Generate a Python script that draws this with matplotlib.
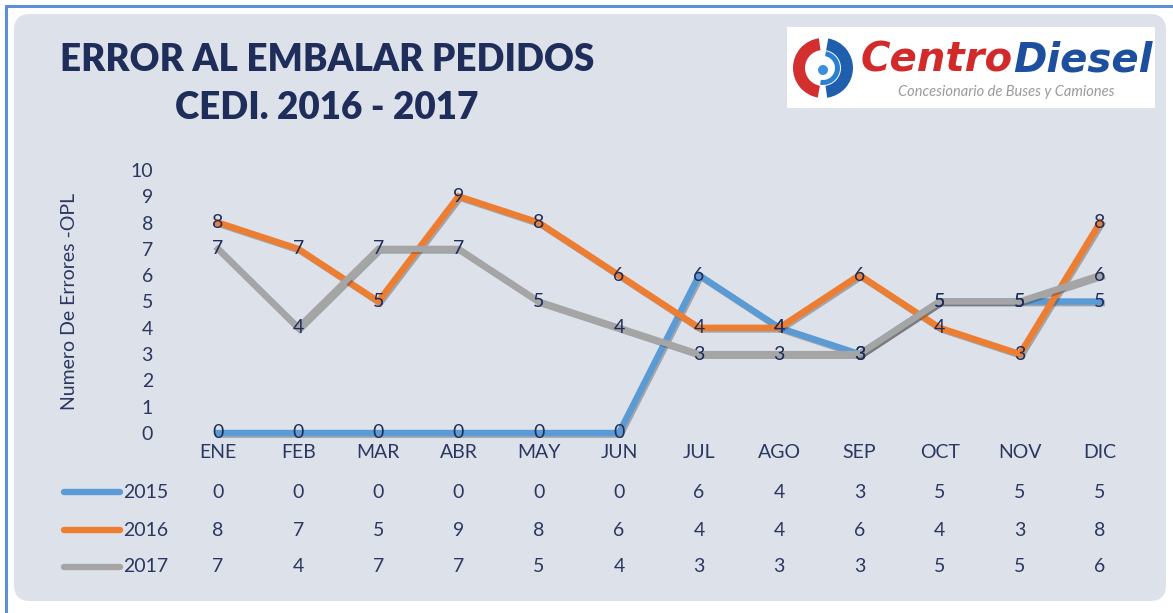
import matplotlib
matplotlib.use("Agg")
import matplotlib.pyplot as plt
import matplotlib.patheffects as pe
from matplotlib.patches import FancyBboxPatch, Rectangle, Wedge, Circle
from matplotlib.transforms import blended_transform_factory

plt.rcParams['font.family'] = ['Lato', 'DejaVu Sans']

# datos
meses = ['ENE', 'FEB', 'MAR', 'ABR', 'MAY', 'JUN', 'JUL', 'AGO', 'SEP', 'OCT', 'NOV', 'DIC']
anios = ['2015', '2016', '2017']
v2015 = [0, 0, 0, 0, 0, 0, 6, 4, 3, 5, 5, 5]
v2016 = [8, 7, 5, 9, 8, 6, 4, 4, 6, 4, 3, 8]
v2017 = [7, 4, 7, 7, 5, 4, 3, 3, 3, 5, 5, 6]
series = [v2015, v2016, v2017]
colores = ['#5b9bd5', '#ed7d31', '#a5a5a5']

W, H = 1173, 613
navy = '#1f2d5a'
texto = '#2a3760'
fondo = '#dde1e9'

fig = plt.figure(figsize=(W / 100, H / 100), dpi=100)
fig.patch.set_facecolor('white')

# capa de fondo en pixeles
bg = fig.add_axes([0, 0, 1, 1])
bg.set_xlim(0, W)
bg.set_ylim(H, 0)
bg.axis('off')
bg.add_patch(FancyBboxPatch((14, 14), 1152, 587, boxstyle='round,pad=0,rounding_size=16',
                            fc=fondo, ec='none'))
bg.plot([5, W], [6, 6], color='#5b8fd6', lw=2.2, solid_capstyle='butt')
bg.plot([6, 6], [5, H], color='#5b8fd6', lw=2.2, solid_capstyle='butt')

# titulo
bg.text(327, 60, 'ERROR AL EMBALAR PEDIDOS', ha='center', va='center',
        fontsize=26.5, fontweight='heavy', color=navy)
bg.text(327, 108, 'CEDI. 2016 - 2017', ha='center', va='center',
        fontsize=26.5, fontweight='heavy', color=navy)

# logo
bg.add_patch(Rectangle((787, 27), 368, 81, fc='white', ec='none'))
bg.add_patch(Wedge((823, 68), 30, 100, 262, width=12, fc='#d32f2f', ec='none'))
bg.add_patch(Wedge((823, 68), 30, -80, 82, width=12, fc='#1f5fae', ec='none'))
bg.add_patch(Wedge((823, 68), 17, -80, 100, width=5, fc='#2a7fd0', ec='none'))
bg.add_patch(Circle((823, 70), 5, fc='#3b8fe0', ec='none'))
bg.text(1013, 61, 'Centro', ha='right', va='center', fontsize=29, fontweight='heavy',
        style='italic', color='#d22a2a', family=['DejaVu Sans'])
bg.text(1013, 61, 'Diesel', ha='left', va='center', fontsize=29, fontweight='heavy',
        style='italic', color='#1d4f9e', family=['DejaVu Sans'])
bg.text(1006, 92, 'Concesionario de Buses y Camiones', ha='center', va='center',
        fontsize=10.5, style='italic', color='#9a9a9a')

# eje principal
x0, x11 = 218, 1100
y0, y10 = 433, 170
du = (x11 - x0) / 11
left = x0 - 0.5 * du
right = x11 + 0.5 * du
ax = fig.add_axes([left / W, (H - y0) / H, (right - left) / W, (y0 - y10) / H])
ax.set_xlim(-0.5, 11.5)
ax.set_ylim(0, 10)
ax.patch.set_alpha(0)
for s in ax.spines.values():
    s.set_visible(False)

xs = list(range(len(meses)))
sombra = [pe.SimpleLineShadow(offset=(1.2, -1.2), shadow_color='#333333', alpha=0.35), pe.Normal()]
for vals, c in zip(series, colores):
    ax.plot(xs, vals, color=c, lw=4.6, solid_joinstyle='miter', clip_on=False,
            path_effects=sombra, zorder=2)
for vals in series:
    for i, v in enumerate(vals):
        ax.text(i, v, str(v), ha='center', va='center', fontsize=14, color=navy, zorder=5)

ax.set_yticks(range(0, 11))
ax.set_xticks(xs)
ax.set_xticklabels(meses)
ax.tick_params(axis='both', length=0, labelsize=14, colors=texto)
ax.tick_params(axis='y', pad=18)
ax.tick_params(axis='x', pad=8)
ax.set_ylabel('Numero De Errores -OPL', fontsize=14, color=texto, labelpad=38)

# tabla de datos
tr = blended_transform_factory(ax.transData, bg.transData)
filas_y = [492, 530, 567]
for vals, c, anio, fy in zip(series, colores, anios, filas_y):
    for i, v in enumerate(vals):
        ax.text(i, fy, str(v), transform=tr, ha='center', va='center', fontsize=14, color=texto)
    bg.plot([64, 120], [fy, fy], color=c, lw=4.6, solid_capstyle='round')
    bg.text(123, fy, anio, ha='left', va='center', fontsize=14, color=texto)

fig.savefig('out.png', dpi=100, facecolor='white')
